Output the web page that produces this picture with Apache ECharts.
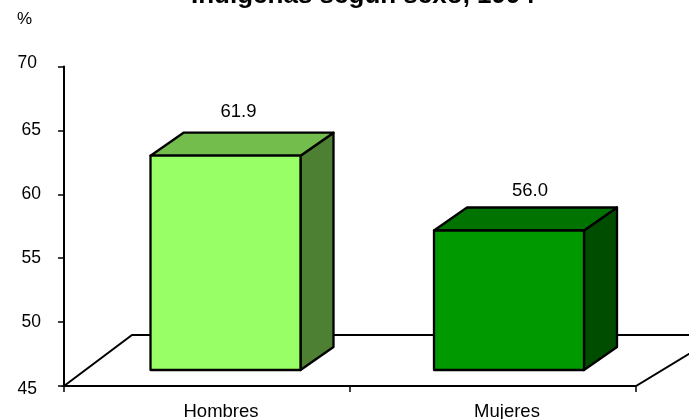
<!DOCTYPE html>
<html><head><meta charset="utf-8">
<style>html,body{margin:0;padding:0;background:#fff}#c{width:689px;height:419px}</style>
<script src="https://cdn.jsdelivr.net/npm/echarts@6/dist/echarts.min.js"></script>
</head><body><div id="c"></div>
<script>
const categories = ['Hombres', 'Mujeres'];
const values = [61.9, 56.0];
const labels = ['61.9', '56.0'];
const frontColors = ['#99ff66', '#009900'];
const topColors = ['#73bd4d', '#007300'];
const sideColors = ['#4d8033', '#004d00'];
const FONT = 'Liberation Sans';
const DX = 33, DY = 23;
const labelNudge = [[13, -44], [21, -40]];
const chart = echarts.init(document.getElementById('c'), null, {renderer: 'canvas'});
function renderBar(params, api) {
  const i = api.value(0), v = api.value(1);
  const top = api.coord([i, v]), base = api.coord([i, 45]);
  const bw = api.size([1, 0])[0] * 150 / 283.5;
  const l = top[0] - bw / 2, r = top[0] + bw / 2, t = top[1], b = base[1];
  const st = {stroke: '#000', lineWidth: 2.3, lineJoin: 'round'};
  return {type: 'group', children: [
    {type: 'polygon', shape: {points: [[r, t], [r + DX, t - DY], [r + DX, b - DY], [r, b]]}, style: {...st, fill: sideColors[i]}},
    {type: 'polygon', shape: {points: [[l, t], [l + DX, t - DY], [r + DX, t - DY], [r, t]]}, style: {...st, fill: topColors[i]}},
    {type: 'rect', shape: {x: l, y: t, width: r - l, height: b - t}, style: {...st, fill: frontColors[i]}},
    {type: 'text', x: top[0] + labelNudge[i][0], y: t + labelNudge[i][1], style: {text: labels[i], fill: '#000', font: '18.5px "' + FONT + '"', align: 'center', verticalAlign: 'middle'}}
  ]};
}
const tickStyle = {fontSize: 17.5, fontFamily: FONT, color: '#000'};
chart.setOption({
  animation: false,
  backgroundColor: '#fff',
  textStyle: {fontFamily: FONT},
  grid: [
    {left: 64, top: 66.5, width: 572, height: 319.5, outerBoundsMode: 'none'},
    {left: 83.75, top: 53, width: 567, height: 317, outerBoundsMode: 'none'}
  ],
  xAxis: [
    {type: 'category', gridIndex: 0, data: categories, z: 3,
     axisLine: {lineStyle: {color: '#000', width: 2}},
     axisTick: {show: true, length: 6, alignWithLabel: false, lineStyle: {color: '#000', width: 1.5}},
     axisLabel: {color: '#000', fontSize: 18.5, fontFamily: FONT, margin: 16, padding: [0, 0, 0, 28]}},
    {type: 'category', gridIndex: 1, data: categories, show: false}
  ],
  yAxis: [
    {type: 'value', gridIndex: 0, min: 45, max: 70, interval: 5, z: 3,
     axisLine: {show: true, lineStyle: {color: '#000', width: 2}},
     axisTick: {show: true, length: 6, lineStyle: {color: '#000', width: 1.5}},
     axisLabel: {color: '#000', fontSize: 17.5, fontFamily: FONT, margin: 23,
       verticalAlignMinLabel: 'middle', verticalAlignMaxLabel: 'middle',
       formatter: v => v === 70 ? '{hi|70}' : v === 45 ? '{lo|45}' : '{m|' + v + '}',
       rich: {hi: {...tickStyle, padding: [0, 4, 6, 0]},
              lo: {...tickStyle, padding: [6, 4, 0, 0]},
              m: {...tickStyle}}},
     splitLine: {show: false}},
    {type: 'value', gridIndex: 1, min: 45, max: 70, interval: 5, show: false, splitLine: {show: false}}
  ],
  graphic: [
    {type: 'polygon', z: 1, shape: {points: [[64, 386], [132, 335], [720, 335], [636, 386]]},
     style: {fill: '#fff', stroke: '#000', lineWidth: 2}},
    {type: 'text', left: 17, top: 11, style: {text: '%', fill: '#000', font: '17px "' + FONT + '"'}},
    {type: 'text', left: 191, top: -17, style: {text: 'Indígenas según sexo, 1994 ', fill: '#000', font: 'bold 26px "' + FONT + '"'}}
  ],
  series: [{
    type: 'custom', xAxisIndex: 1, yAxisIndex: 1, coordinateSystem: 'cartesian2d', z: 5, clip: false,
    renderItem: renderBar,
    encode: {x: 0, y: 1},
    data: values.map((v, i) => [i, v])
  }]
});
</script></body></html>
